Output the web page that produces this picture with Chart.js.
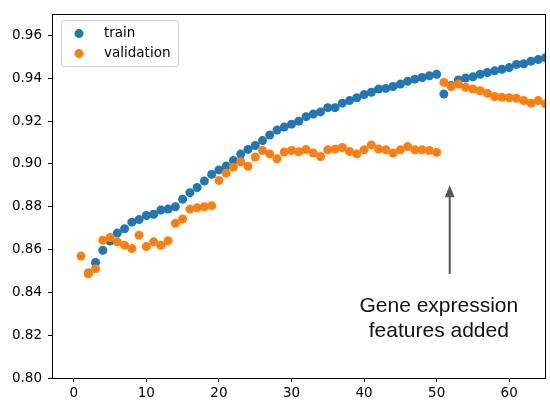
<!DOCTYPE html>
<html>
<head>
<meta charset="utf-8">
<script src="https://cdn.jsdelivr.net/npm/chart.js@4/dist/chart.umd.min.js"></script>
<style>
  html, body { margin: 0; padding: 0; background: #fff; }
</style>
</head>
<body>
<canvas id="chart" width="550" height="400"></canvas>
<script>
// epochs and accuracies
const trainEpochs = [2, 3, 4, 5, 6, 7, 8, 9, 10, 11, 12, 13, 14, 15, 16, 17, 18, 19, 20, 21,
  22, 23, 24, 25, 26, 27, 28, 29, 30, 31, 32, 33, 34, 35, 36, 37, 38, 39, 40, 41,
  42, 43, 44, 45, 46, 47, 48, 49, 50, 51, 52, 53, 54, 55, 56, 57, 58, 59, 60, 61,
  62, 63, 64, 65];
const trainAcc = [0.8490, 0.8540, 0.8597, 0.8640, 0.8677, 0.8697, 0.8728, 0.8740, 0.8759, 0.8765,
  0.8785, 0.8789, 0.8800, 0.8835, 0.8866, 0.8890, 0.8920, 0.8951, 0.8972, 0.8990,
  0.9016, 0.9046, 0.9068, 0.9086, 0.9109, 0.9135, 0.9158, 0.9172, 0.9186, 0.9200,
  0.9221, 0.9233, 0.9243, 0.9263, 0.9263, 0.9284, 0.9296, 0.9309, 0.9324, 0.9335,
  0.9350, 0.9353, 0.9362, 0.9373, 0.9386, 0.9396, 0.9404, 0.9412, 0.9419, 0.9327,
  0.9366, 0.9392, 0.9401, 0.9407, 0.9419, 0.9427, 0.9435, 0.9442, 0.9450, 0.9465,
  0.9468, 0.9480, 0.9488, 0.9496];

const valEpochs = [1, 2, 3, 4, 5, 6, 7, 8, 9, 10, 11, 12, 13, 14, 15, 16, 17, 18, 19, 20,
  21, 22, 23, 24, 25, 26, 27, 28, 29, 30, 31, 32, 33, 34, 35, 36, 37, 38, 39, 40,
  41, 42, 43, 44, 45, 46, 47, 48, 49, 50, 51, 52, 53, 54, 55, 56, 57, 58, 59, 60,
  61, 62, 63, 64, 65];
const valAcc = [0.8570, 0.8487, 0.8510, 0.8644, 0.8656, 0.8636, 0.8620, 0.8605, 0.8667, 0.8614,
  0.8636, 0.8620, 0.8641, 0.8723, 0.8743, 0.8789, 0.8795, 0.8800, 0.8805, 0.8923,
  0.8957, 0.8985, 0.9010, 0.8989, 0.9032, 0.9063, 0.9047, 0.9024, 0.9056, 0.9063,
  0.9057, 0.9067, 0.9051, 0.9035, 0.9066, 0.9069, 0.9077, 0.9058, 0.9047, 0.9066,
  0.9089, 0.9070, 0.9066, 0.9051, 0.9066, 0.9081, 0.9066, 0.9066, 0.9063, 0.9054,
  0.9381, 0.9361, 0.9373, 0.9358, 0.9350, 0.9342, 0.9330, 0.9315, 0.9312, 0.9309,
  0.9307, 0.9296, 0.9284, 0.9296, 0.9281];

const seriesNames = ["train", "validation"];
const seriesColors = ["#1f77b4", "#ff7f0e"];

// annotation (data coords)
const noteText = ["Gene expression", "features added"];
const noteX = 50.3;
const noteY = 0.8307;
const arrowX = 51.8;
const arrowTail = 0.8486;
const arrowTip = 0.8900;

const toPoints = (xs, ys) => xs.map((x, i) => ({ x: x, y: ys[i] }));

const tickFont = { family: "'DejaVu Sans', sans-serif", size: 13.5 };

// box around the plot, like matplotlib spines
const framePlugin = {
  id: "frame",
  afterDatasetsDraw(chart) {
    const { ctx, chartArea: a } = chart;
    ctx.save();
    ctx.strokeStyle = "#000";
    ctx.lineWidth = 1;
    ctx.strokeRect(Math.round(a.left) + 0.5, Math.round(a.top) + 0.5,
      Math.round(a.right - a.left) - 1, Math.round(a.bottom - a.top));
    ctx.restore();
  }
};

// arrow + label
const notePlugin = {
  id: "note",
  afterDatasetsDraw(chart) {
    const { ctx, scales } = chart;
    const x = scales.x.getPixelForValue(arrowX);
    const y0 = scales.y.getPixelForValue(arrowTail);
    const y1 = scales.y.getPixelForValue(arrowTip);
    ctx.save();
    ctx.strokeStyle = "#555";
    ctx.fillStyle = "#555";
    ctx.lineWidth = 2;
    ctx.beginPath();
    ctx.moveTo(x, y0);
    ctx.lineTo(x, y1 + 8);
    ctx.stroke();
    ctx.beginPath();
    ctx.moveTo(x, y1);
    ctx.lineTo(x - 5, y1 + 12);
    ctx.lineTo(x + 5, y1 + 12);
    ctx.closePath();
    ctx.fill();

    const tx = scales.x.getPixelForValue(noteX);
    const ty = scales.y.getPixelForValue(noteY);
    ctx.fillStyle = "#111";
    ctx.font = "21px 'Liberation Sans', Arial, sans-serif";
    ctx.textAlign = "center";
    ctx.textBaseline = "alphabetic";
    noteText.forEach((line, i) => ctx.fillText(line, tx, ty + i * 24.5));
    ctx.restore();
  }
};

// legend box in the upper left corner
const legendPlugin = {
  id: "boxLegend",
  afterDraw(chart) {
    const { ctx, chartArea: a } = chart;
    const bx = a.left + 9, by = a.top + 6, bw = 117, bh = 46;
    ctx.save();
    ctx.fillStyle = "rgba(255,255,255,0.8)";
    ctx.strokeStyle = "#cccccc";
    ctx.lineWidth = 1;
    ctx.beginPath();
    ctx.roundRect(bx + 0.5, by + 0.5, bw, bh, 3);
    ctx.fill();
    ctx.stroke();
    ctx.font = "13.5px 'DejaVu Sans', sans-serif";
    ctx.textBaseline = "middle";
    ctx.textAlign = "left";
    seriesNames.forEach((name, i) => {
      const cy = by + 13.5 + i * 20;
      ctx.fillStyle = seriesColors[i];
      ctx.beginPath();
      ctx.arc(bx + 18, cy, 4.5, 0, Math.PI * 2);
      ctx.fill();
      ctx.fillStyle = "#000";
      ctx.fillText(name, bx + 43, cy);
    });
    ctx.restore();
  }
};

new Chart(document.getElementById("chart"), {
  type: "scatter",
  data: {
    datasets: [
      {
        label: seriesNames[0],
        data: toPoints(trainEpochs, trainAcc),
        backgroundColor: seriesColors[0],
        borderWidth: 0,
        pointRadius: 4.5,
        order: 1,
        clip: 0,
      },
      {
        label: seriesNames[1],
        data: toPoints(valEpochs, valAcc),
        backgroundColor: seriesColors[1],
        borderWidth: 0,
        pointRadius: 4.5,
        order: 0, // drawn on top
        clip: 0,
      },
    ],
  },
  options: {
    responsive: false,
    animation: false,
    layout: { padding: { left: 0, right: 2, top: 9, bottom: 0 } },
    plugins: {
      legend: { display: false },
      tooltip: { enabled: false },
    },
    scales: {
      x: {
        type: "linear",
        min: -3,
        max: 65,
        border: { display: false },
        grid: { drawOnChartArea: false, drawTicks: true, tickLength: 4, tickColor: "#000" },
        ticks: {
          stepSize: 10,
          includeBounds: false,
          maxRotation: 0,
          padding: 3,
          color: "#000",
          font: tickFont,
        },
        afterFit: (scale) => { scale.height = 22; },
      },
      y: {
        min: 0.8,
        max: 0.97,
        border: { display: false },
        grid: { drawOnChartArea: false, drawTicks: true, tickLength: 4, tickColor: "#000" },
        ticks: {
          stepSize: 0.02,
          includeBounds: false,
          padding: 6,
          color: "#000",
          font: tickFont,
          callback: (v) => v.toFixed(2),
        },
        afterFit: (scale) => { scale.width = 52; },
      },
    },
  },
  plugins: [framePlugin, notePlugin, legendPlugin],
});
</script>
</body>
</html>
